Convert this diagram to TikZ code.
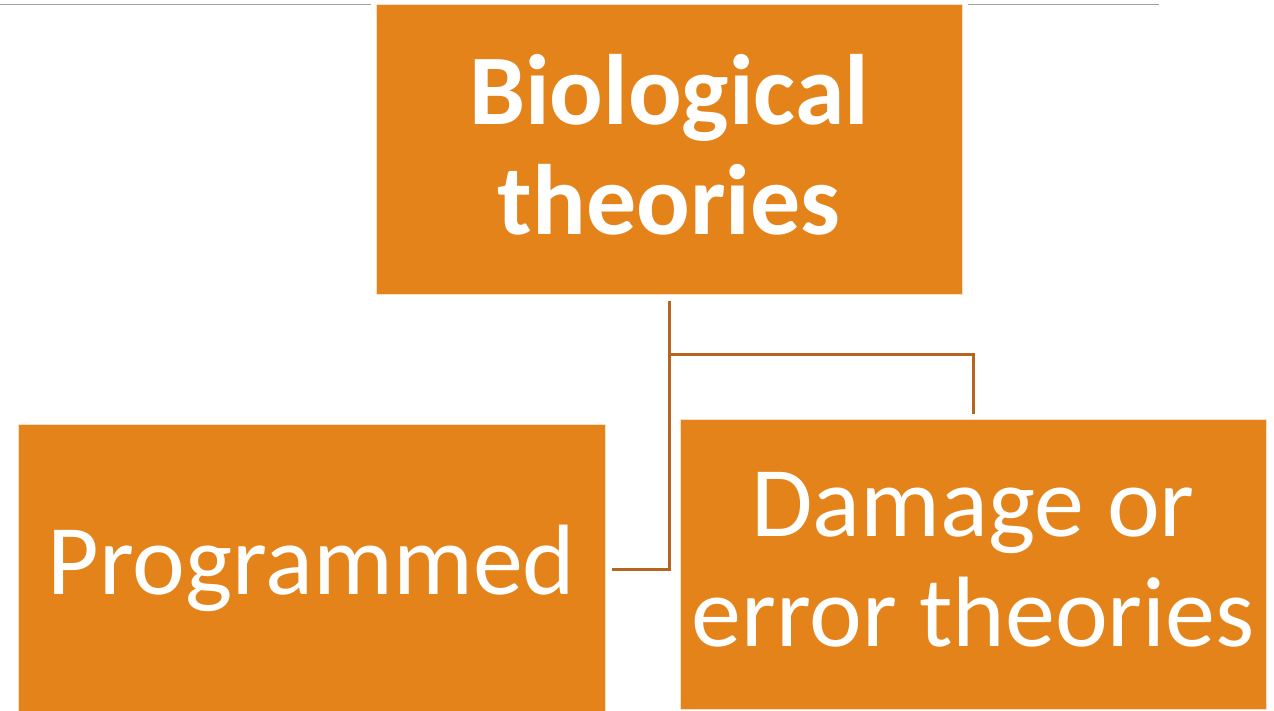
\documentclass[tikz,border=0pt]{standalone}
\usepackage{fontspec}
\setmainfont{Carlito}
\definecolor{boxorange}{HTML}{E4831A}
\definecolor{linkbrown}{HTML}{B5651D}
\definecolor{rulegray}{HTML}{A0A0A0}
\begin{document}
\begin{tikzpicture}[x=1pt,y=-1pt,
  orgbox/.style={fill=boxorange, draw=white!75!boxorange, line width=1pt, inner sep=0pt},
  boxtext/.style={text=white, font=\fontsize{100}{110}\selectfont, align=center, inner sep=0pt},
  link/.style={draw=linkbrown, line width=3pt, shorten >=6pt, shorten <=6pt},
  topline/.style={draw=rulegray, line width=1.5pt}]
\useasboundingbox (0,0) rectangle (1274,710);
\fill[white] (0,0) rectangle (1274,710);
% gray rules at top
\coordinate (r1a) at (0,4.5);
\coordinate (r1b) at (371,4.5);
\coordinate (r2a) at (968,4.5);
\coordinate (r2b) at (1159,4.5);
\draw[topline] (r1a) -- (r1b);
\draw[topline] (r2a) -- (r2b);
% boxes
\node[orgbox, minimum width=586pt, minimum height=290pt,
  label={[boxtext, yshift=4pt]center:{\bfseries Biological\\\bfseries theories}}] (top) at (669,149) {};
\node[orgbox, minimum width=587pt, minimum height=287pt,
  label={[boxtext, yshift=-1pt]center:{Programmed}}] (prog) at (311.5,567.5) {};
\node[orgbox, minimum width=586pt, minimum height=290pt,
  label={[boxtext, yshift=4pt]center:{Damage or\\error theories}}] (dam) at (973,564) {};
% connectors
\coordinate (j) at (669,354);
\coordinate (pe) at ([yshift=-1.5pt]prog.east);
\draw[link] (top.south) |- (pe);
\draw[link, shorten <=0pt, line cap=rect] (j) -| (dam.north);
\end{tikzpicture}
\end{document}
